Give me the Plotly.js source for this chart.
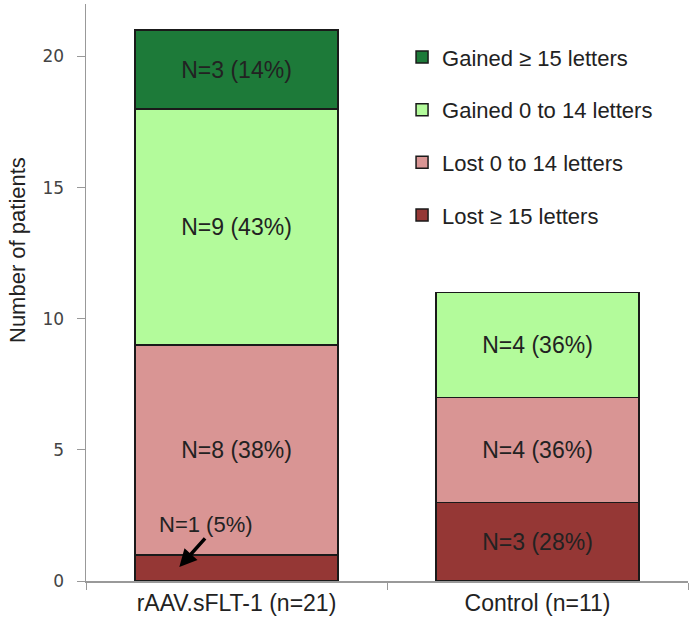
<!DOCTYPE html>
<html>
<head>
<meta charset="utf-8">
<script src="https://cdn.plot.ly/plotly-3.0.1.min.js"></script>
<style>
  body { margin: 0; background: #fff; }
  #plot-area { width: 694px; height: 627px; }
</style>
</head>
<body>
<div id="plot-area"></div>
<script>
var groups = ["rAAV.sFLT-1 (n=21)", "Control (n=11)"];

var lost15   = [1, 3];
var lost014  = [8, 4];
var gain014  = [9, 4];
var gain15   = [3, 0];

var lost15Text  = ["", "N=3 (28%)"];
var lost014Text = ["N=8 (38%)", "N=4 (36%)"];
var gain014Text = ["N=9 (43%)", "N=4 (36%)"];
var gain15Text  = ["N=3 (14%)", ""];

var seriesNames  = ["Lost \u2265 15 letters", "Lost 0 to 14 letters", "Gained 0 to 14 letters", "Gained \u2265 15 letters"];
var seriesColors = ["#953735", "#d99594", "#b3fb9b", "#1d7a39"];

function MakeBar(i, values, labels) {
    return {
        type: "bar",
        x: groups,
        y: values,
        name: seriesNames[i],
        legendgroup: "g" + i,
        legendrank: 10 - i,   // top of legend = top of stack
        text: labels,
        textposition: "inside",
        insidetextanchor: "middle",
        textfont: {family: "Liberation Sans, Arial, sans-serif", size: 23, color: "#222"},
        marker: {color: seriesColors[i], line: {color: "#1a1a1a", width: 1.5}},
        width: 0.675,
        hoverinfo: "none"
    };
}

function UpdatePlot() {
    var data = [
        MakeBar(0, lost15, lost15Text),
        MakeBar(1, lost014, lost014Text),
        MakeBar(2, gain014, gain014Text),
        MakeBar(3, gain15, gain15Text)
    ];

    var layout = {
        width: 694,
        height: 627,
        margin: {l: 86, r: 6, t: 4, b: 46},
        barmode: "stack",
        paper_bgcolor: "#fff",
        plot_bgcolor: "#fff",
        font: {family: "Liberation Sans, Arial, sans-serif", color: "#222"},
        xaxis: {
            type: "category",
            range: [-0.5, 1.5],
            showline: true, linecolor: "#999", linewidth: 1.5,
            ticks: "outside", tickson: "boundaries", ticklen: 7, tickcolor: "#999",
            tickfont: {size: 23, color: "#222"},
            ticklabelstandoff: 1,
            showgrid: false, zeroline: false
        },
        yaxis: {
            range: [0, 22],
            tickvals: [0, 5, 10, 15, 20],
            showline: true, linecolor: "#999", linewidth: 1.5,
            ticks: "outside", ticklen: 8, tickcolor: "#999",
            tickfont: {family: "DejaVu Sans, sans-serif", size: 17, color: "#444"},
            ticklabelstandoff: 9,
            showgrid: false, zeroline: false
        },
        showlegend: true,
        legend: {
            x: 0.525, xanchor: "left",
            y: 0.944, yanchor: "top",
            traceorder: "grouped",
            tracegroupgap: 21,
            font: {size: 22, color: "#222"},
            bgcolor: "rgba(0,0,0,0)"
        },
        annotations: [
            {   // y axis title, placed as in the original (above plot centre)
                x: 18, y: 250, xref: "paper", yref: "paper",
                xanchor: "center", yanchor: "middle",
                text: "Number of patients", textangle: -90, showarrow: false,
                font: {size: 22, color: "#222"}
            },
            {
                x: -0.1, y: 2.17, xref: "x", yref: "y",
                text: "N=1 (5%)", showarrow: false,
                font: {size: 22, color: "#222"}
            },
            {
                x: -0.19, y: 0.53, xref: "x", yref: "y",
                ax: -0.1, ay: 1.68, axref: "x", ayref: "y",
                text: "", showarrow: true,
                arrowhead: 2, arrowsize: 1, arrowwidth: 3.5, arrowcolor: "#000"
            }
        ]
    };

    // paper coords for the y-title annotation (given above in pixels)
    var pw = layout.width - layout.margin.l - layout.margin.r;
    var ph = layout.height - layout.margin.t - layout.margin.b;
    var ytitle = layout.annotations[0];
    ytitle.x = (ytitle.x - layout.margin.l) / pw;
    ytitle.y = (layout.height - layout.margin.b - ytitle.y) / ph;

    Plotly.newPlot("plot-area", data, layout, {displayModeBar: false, staticPlot: true});
}

UpdatePlot();
</script>
</body>
</html>
